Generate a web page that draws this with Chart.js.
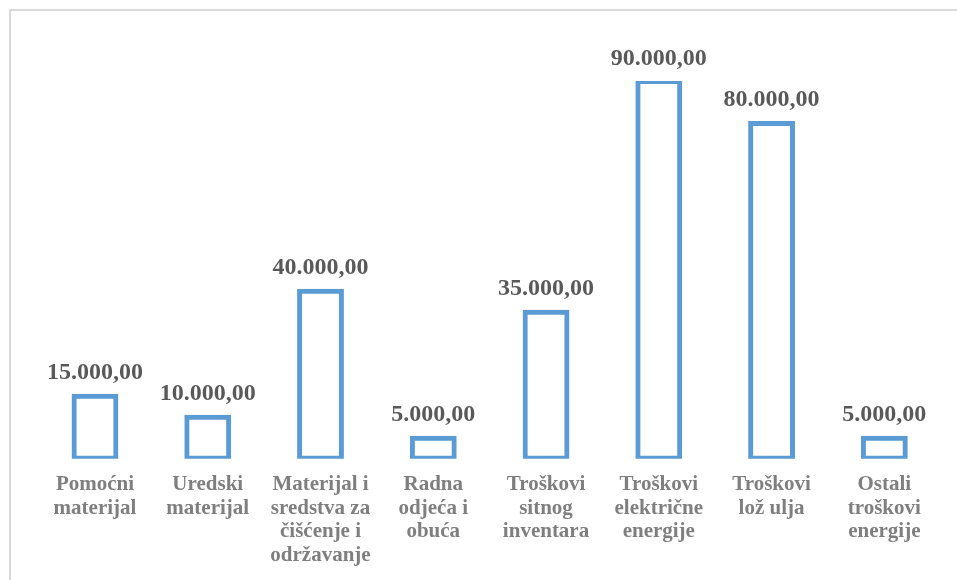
<!DOCTYPE html>
<html>
<head>
<meta charset="utf-8">
<script src="https://cdn.jsdelivr.net/npm/chart.js@4.4.0/dist/chart.umd.min.js"></script>
<style>
  html, body { margin: 0; padding: 0; background: #fff; }
  #wrap { width: 957px; height: 580px; position: relative; }
</style>
</head>
<body>
<div id="wrap"><canvas id="costChart"></canvas></div>
<script>
// Categories (multi-line, as in the picture) and values
const categories = [
  ["Pomoćni", "materijal"],
  ["Uredski", "materijal"],
  ["Materijal i", "sredstva za", "čišćenje i", "održavanje"],
  ["Radna", "odjeća i", "obuća"],
  ["Troškovi", "sitnog", "inventara"],
  ["Troškovi", "električne", "energije"],
  ["Troškovi", "lož ulja"],
  ["Ostali", "troškovi", "energije"]
];
const costs = [15000, 10000, 40000, 5000, 35000, 90000, 80000, 5000];

const serif = "'Liberation Serif', 'Times New Roman', serif";

// 15000 -> "15.000,00"
function fmtNum(v) {
  const parts = v.toFixed(2).split(".");
  const intPart = parts[0].replace(/\B(?=(\d{3})+(?!\d))/g, ".");
  return intPart + "," + parts[1];
}

// Light grey frame around the chart (runs off the right and bottom edges)
const framePlugin = {
  id: "frame",
  beforeDraw(chart) {
    const ctx = chart.ctx;
    ctx.save();
    ctx.strokeStyle = "#d9d9d9";
    ctx.lineWidth = 2;
    ctx.strokeRect(10, 10, chart.width + 20, chart.height + 20);
    ctx.restore();
  }
};

// Value labels above bars
const valueLabels = {
  id: "valueLabels",
  afterDatasetsDraw(chart) {
    const ctx = chart.ctx;
    const meta = chart.getDatasetMeta(0);
    ctx.save();
    ctx.font = "bold 24px " + serif;
    ctx.fillStyle = "#595959";
    ctx.textAlign = "center";
    ctx.textBaseline = "alphabetic";
    meta.data.forEach((bar, i) => {
      ctx.fillText(fmtNum(costs[i]), bar.x, bar.y - 16.5);
    });
    ctx.restore();
  }
};

const ctx = document.getElementById("costChart").getContext("2d");
new Chart(ctx, {
  type: "bar",
  data: {
    labels: categories,
    datasets: [{
      data: costs,
      backgroundColor: "rgba(0,0,0,0)",
      borderColor: "#5b9bd5",
      borderWidth: 1,
      inflateAmount: 2,
      borderSkipped: false,
      categoryPercentage: 1,
      barPercentage: 0.38
    }]
  },
  options: {
    responsive: true,
    maintainAspectRatio: false,
    animation: false,
    events: [],
    layout: { padding: { top: 81, left: 38.6, right: 16.3, bottom: 0 } },
    plugins: {
      legend: { display: false },
      tooltip: { enabled: false },
      title: { display: false }
    },
    scales: {
      x: {
        border: { display: false },
        grid: { display: false, drawTicks: false },
        afterFit(scale) { scale.height = 121.3; },
        ticks: {
          color: "#7f7f7f",
          padding: 14,
          maxRotation: 0,
          autoSkip: false,
          font: { family: serif, size: 21, weight: "bold", lineHeight: 1.13 }
        }
      },
      y: {
        display: false,
        min: 0,
        max: 90000
      }
    }
  },
  plugins: [framePlugin, valueLabels]
});
</script>
</body>
</html>
